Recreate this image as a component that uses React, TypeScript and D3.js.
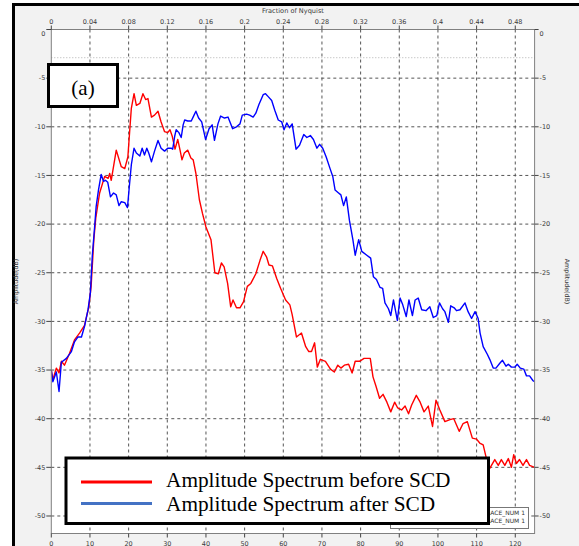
import React from "react";
import * as d3 from "d3";

// Amplitude spectra, frequency (Hz) vs amplitude (dB)
const beforeScd: [number, number][] = [
  [0, -35.0], [0.4, -36.0], [1.3, -34.8], [2.0, -35.3], [2.6, -34.1], [3.4, -34.5], [4.7, -33.3],
  [6.0, -31.9], [7.3, -31.2], [8.6, -30.4], [9.7, -28.5], [10.3, -26.4], [11.0, -21.6], [11.5, -19.4],
  [12.5, -16.8], [13.8, -15.1], [14.7, -15.3], [15.1, -14.8], [15.5, -15.5], [16.8, -12.4], [18.1, -14.1],
  [19.0, -14.3], [19.8, -13.1], [20.3, -10.3], [20.7, -8.1], [21.4, -6.6], [22.0, -7.8], [22.9, -7.6],
  [23.7, -6.6], [24.4, -7.2], [25.0, -7.1], [25.9, -9.0], [26.7, -8.8], [27.6, -8.4], [28.4, -9.5],
  [29.3, -10.5], [30.1, -10.6], [30.7, -10.3], [31.3, -11.0], [32.0, -12.3], [32.7, -11.3], [33.3, -12.4],
  [33.8, -13.4], [34.4, -12.7], [35.3, -12.4], [36.1, -13.2], [36.7, -13.4], [37.4, -14.8], [38.3, -17.5],
  [39.1, -18.9], [40.0, -20.3], [41.3, -21.6], [42.3, -25.0], [43.2, -25.1], [44.0, -24.0], [44.7, -24.4],
  [45.6, -26.1], [46.4, -28.5], [47.0, -27.8], [47.9, -28.6], [48.8, -28.6], [49.7, -28.0], [50.7, -26.4],
  [51.6, -26.1], [52.9, -25.1], [54.0, -23.7], [54.8, -22.8], [55.7, -23.4], [56.3, -24.2], [57.2, -24.3],
  [58.3, -25.6], [59.3, -26.6], [60.6, -27.8], [61.7, -28.3], [62.3, -29.3], [63.4, -31.6], [64.7, -31.2],
  [65.8, -32.6], [66.6, -33.1], [67.3, -33.1], [68.1, -32.2], [68.8, -34.7], [69.6, -33.9], [70.9, -34.1],
  [72.2, -34.9], [73.2, -35.2], [74.1, -34.5], [74.9, -34.8], [75.8, -34.5], [76.9, -34.4], [77.8, -35.3],
  [78.6, -34.1], [79.7, -34.1], [80.9, -33.8], [82.5, -33.8], [83.2, -35.7], [84.0, -36.7], [84.9, -37.9],
  [85.8, -37.5], [86.8, -38.3], [87.8, -39.3], [88.8, -38.3], [89.6, -38.9], [90.6, -39.1], [91.5, -38.7],
  [92.4, -39.5], [93.2, -38.6], [94.4, -37.6], [95.4, -38.3], [96.4, -39.3], [97.5, -38.7], [98.6, -40.8],
  [99.5, -38.1], [100.5, -39.1], [101.8, -40.3], [103.1, -40.1], [104.1, -40.0], [105.5, -41.3], [106.5, -40.5],
  [107.6, -40.3], [108.9, -42.0], [110.0, -42.1], [110.8, -42.5], [111.7, -42.7], [112.6, -44.2], [113.4, -45.1],
  [114.7, -44.2], [115.6, -44.8], [116.4, -44.2], [117.3, -44.8], [118.2, -44.1], [119.0, -45.0], [119.6, -43.7],
  [120.3, -44.6], [121.1, -44.2], [122.0, -44.8], [122.9, -44.2], [123.7, -44.8], [125, -45.0],
];

const afterScd: [number, number][] = [
  [0, -35.0], [0.4, -36.2], [1.3, -35.2], [2.0, -37.2], [2.6, -34.2], [3.9, -33.8], [5.2, -33.1],
  [6.0, -32.1], [6.9, -31.6], [7.8, -31.6], [8.6, -30.5], [9.5, -28.8], [10.1, -27.1], [10.6, -23.3],
  [11.2, -20.3], [11.6, -18.2], [12.2, -16.5], [12.9, -14.9], [13.5, -15.6], [14.0, -15.5], [14.6, -15.7],
  [15.3, -17.2], [16.1, -16.8], [16.8, -17.0], [17.5, -18.1], [18.1, -17.7], [19.0, -17.8], [19.7, -18.3],
  [20.1, -16.5], [20.7, -13.9], [21.4, -12.2], [22.0, -12.7], [22.9, -13.0], [23.5, -12.2], [24.1, -12.9],
  [24.7, -12.2], [25.2, -12.7], [25.9, -13.6], [26.7, -12.5], [27.6, -11.4], [28.4, -12.2], [29.3, -12.5],
  [30.1, -12.2], [31.0, -12.2], [31.4, -12.3], [31.9, -11.0], [32.3, -10.3], [33.0, -10.6], [33.6, -11.1],
  [34.1, -9.8], [34.5, -9.3], [35.3, -9.4], [36.2, -9.4], [36.8, -8.9], [37.4, -8.4], [38.1, -9.1],
  [38.9, -9.5], [39.9, -11.3], [40.8, -10.2], [41.6, -9.8], [42.2, -11.4], [43.1, -9.7], [43.8, -8.9],
  [44.8, -9.1], [45.7, -9.0], [46.9, -10.2], [47.9, -10.0], [48.8, -9.7], [49.4, -8.8], [50.5, -8.7],
  [51.3, -8.8], [52.2, -9.0], [52.9, -8.6], [53.7, -7.7], [54.8, -6.7], [55.4, -6.6], [56.1, -6.9],
  [57.0, -7.3], [57.8, -8.3], [58.7, -9.3], [59.6, -9.5], [60.2, -10.3], [60.9, -9.6], [61.6, -10.1],
  [62.3, -9.7], [63.3, -12.3], [64.2, -11.9], [65.3, -10.8], [66.1, -11.1], [67.0, -10.9], [67.8, -11.3],
  [68.7, -12.2], [69.4, -11.8], [70.2, -12.2], [71.1, -13.1], [72.1, -14.3], [72.8, -15.1], [73.4, -16.5],
  [74.3, -16.8], [74.9, -17.0], [75.6, -18.1], [76.3, -17.2], [77.1, -19.6], [78.0, -21.6], [78.6, -23.2],
  [79.5, -21.6], [80.3, -22.8], [81.6, -23.2], [82.6, -23.5], [83.3, -25.4], [84.1, -25.7], [85.0, -26.5],
  [85.7, -26.6], [86.3, -28.1], [87.2, -28.7], [87.8, -29.4], [88.5, -27.8], [89.5, -29.9], [90.2, -27.6],
  [90.9, -28.3], [91.8, -29.5], [92.5, -27.8], [93.4, -29.4], [94.1, -27.8], [94.9, -27.6], [95.8, -28.8],
  [96.9, -28.9], [97.9, -28.5], [98.8, -29.6], [99.7, -29.4], [100.4, -28.1], [101.2, -28.7], [101.8, -29.0],
  [102.7, -30.1], [103.3, -28.4], [104.2, -28.6], [104.8, -28.9], [105.7, -28.8], [107.0, -28.1], [107.8, -29.0],
  [108.7, -29.7], [109.6, -29.0], [110.4, -29.7], [110.9, -31.2], [111.7, -32.6], [112.8, -33.4], [113.4, -33.9],
  [114.3, -34.8], [115.0, -34.8], [116.0, -34.3], [116.7, -34.0], [117.6, -34.6], [118.2, -34.4], [119.0, -34.7],
  [119.9, -34.7], [120.5, -34.4], [121.3, -34.8], [122.2, -34.9], [122.9, -35.6], [123.7, -35.6], [124.6, -36.1],
  [125, -36.2],
];

const freqTicks = [0, 10, 20, 30, 40, 50, 60, 70, 80, 90, 100, 110, 120];
const nyquistTicks = ["0", "0.04", "0.08", "0.12", "0.16", "0.2", "0.24", "0.28", "0.32", "0.36", "0.4", "0.44", "0.48"];
const dbTicks = [0, -5, -10, -15, -20, -25, -30, -35, -40, -45, -50];
const legendLabels = ["Amplitude Spectrum before SCD", "Amplitude Spectrum after SCD"];
const traceLabels = ["TRACE_NUM 1", "TRACE_NUM 1"];
const refLevel = -2.9;

const W = 579;
const H = 546;
const left = 51.3;
const right = 534.6;
const top = 29.5;
const bottom = 533.5;

const sans = "'DejaVu Sans', sans-serif";
const serif = "'Liberation Serif', 'Times New Roman', serif";
const labelColor = "#3a3a3a";

export default function App() {
  const x = d3.scaleLinear().domain([0, 125]).range([left, right]);
  const y = d3.scaleLinear().domain([0, -51.8]).range([top, bottom]);
  const line = d3
    .line<[number, number]>()
    .x((d) => x(d[0]))
    .y((d) => y(d[1]));

  const midX = (left + right) / 2;
  const midY = (top + bottom) / 2;

  return (
    <div style={{ position: "absolute", left: 0, top: 0 }}>
      <svg width={W} height={H} style={{ display: "block" }}>
        <defs>
          <clipPath id="plotClip">
            <rect x={left} y={top} width={right - left} height={bottom - top} />
          </clipPath>
        </defs>
        <rect x={0} y={0} width={W} height={H} fill="#ffffff" />
        <rect x={13} y={4} width={W - 13} height={H - 4} fill="#f2f2f2" />
        <path d={`M13.5,${H} V4.5 H${W}`} fill="none" stroke="#000" strokeWidth={3} />

        {/* plot area */}
        <rect x={left} y={top} width={right - left} height={bottom - top} fill="#ffffff" />

        {/* grid */}
        <g stroke="#555" strokeWidth={1} strokeDasharray="3,3">
          {freqTicks
            .filter((f) => f > 0)
            .map((f) => (
              <line key={`gv${f}`} x1={x(f)} x2={x(f)} y1={top} y2={bottom} />
            ))}
          {dbTicks
            .filter((v) => v < 0)
            .map((v) => (
              <line key={`gh${v}`} x1={left} x2={right} y1={y(v)} y2={y(v)} />
            ))}
        </g>
        <line
          x1={left}
          x2={right}
          y1={y(refLevel)}
          y2={y(refLevel)}
          stroke="#b0b0b0"
          strokeWidth={1}
          strokeDasharray="1,2"
        />

        {/* spectra */}
        <g clipPath="url(#plotClip)" fill="none" strokeWidth={1.4} strokeLinejoin="round">
          <path d={line(beforeScd) ?? ""} stroke="#ff0000" />
          <path d={line(afterScd) ?? ""} stroke="#0000ff" />
        </g>

        {/* frame of plot */}
        <rect
          x={left}
          y={top}
          width={right - left}
          height={bottom - top}
          fill="none"
          stroke="#808080"
          strokeWidth={1}
        />

        {/* axes ticks and labels */}
        <g stroke="#444" strokeWidth={1}>
          {dbTicks.map((v) => (
            <g key={`t${v}`}>
              <line x1={left - 5} x2={left} y1={y(v)} y2={y(v)} />
              <line x1={right} x2={right + 4} y1={y(v)} y2={y(v)} />
            </g>
          ))}
          {freqTicks.map((f) => (
            <g key={`tf${f}`}>
              <line x1={x(f)} x2={x(f)} y1={top - 4} y2={top} />
              <line x1={x(f)} x2={x(f)} y1={bottom} y2={bottom + 4} />
            </g>
          ))}
        </g>
        <g fontFamily={sans} fontSize={6.5} fill={labelColor}>
          {dbTicks.map((v) => (
            <g key={`l${v}`}>
              <text x={left - 6} y={v === 0 ? y(v) + 4 : y(v)} dy="0.35em" textAnchor="end">
                {v}
              </text>
              <text x={right + 5} y={v === 0 ? y(v) + 4 : y(v)} dy="0.35em" textAnchor="start">
                {v}
              </text>
            </g>
          ))}
          {freqTicks.map((f, i) => (
            <g key={`lf${f}`}>
              <text x={x(f)} y={top - 5.5} textAnchor="middle">
                {nyquistTicks[i]}
              </text>
              <text x={x(f)} y={bottom + 12} textAnchor="middle">
                {f}
              </text>
            </g>
          ))}
          <text x={midX} y={12.5} textAnchor="middle" fontSize={6.6}>
            Fraction of Nyquist
          </text>
          <text
            transform={`translate(18,${midY}) rotate(-90)`}
            textAnchor="middle"
            fontSize={6.3}
          >
            Amplitude(dB)
          </text>
          <text
            transform={`translate(565,${midY}) rotate(90)`}
            textAnchor="middle"
            fontSize={6.3}
          >
            Amplitude(dB)
          </text>
        </g>

        {/* trace legend */}
        <rect x={390.5} y={507.5} width={138} height={21} fill="#ffffff" stroke="#777" strokeWidth={1} />
        <g fontFamily={sans} fontSize={6} fill="#333">
          {traceLabels.map((t, i) => (
            <text key={`tr${i}`} x={525} y={514.8 + i * 7.8} textAnchor="end">
              {t}
            </text>
          ))}
        </g>

        {/* series legend */}
        <rect x={66} y={458} width={422.5} height={65.5} fill="#ffffff" stroke="#000" strokeWidth={3} />
        <line x1={81} x2={152} y1={482} y2={482} stroke="#ff0000" strokeWidth={3} />
        <line x1={81} x2={152} y1={503.5} y2={503.5} stroke="#4472c4" strokeWidth={3} />
        <g fontFamily={serif} fontSize={21.3} fill="#000">
          <text x={166} y={487}>
            {legendLabels[0]}
          </text>
          <text x={166} y={511}>
            {legendLabels[1]}
          </text>
        </g>

        {/* panel tag */}
        <rect x={48.5} y={64.5} width={69} height={42} fill="#ffffff" stroke="#000" strokeWidth={3} />
        <text x={83} y={95} textAnchor="middle" fontFamily={serif} fontSize={21} fill="#000">
          (a)
        </text>
      </svg>
    </div>
  );
}
